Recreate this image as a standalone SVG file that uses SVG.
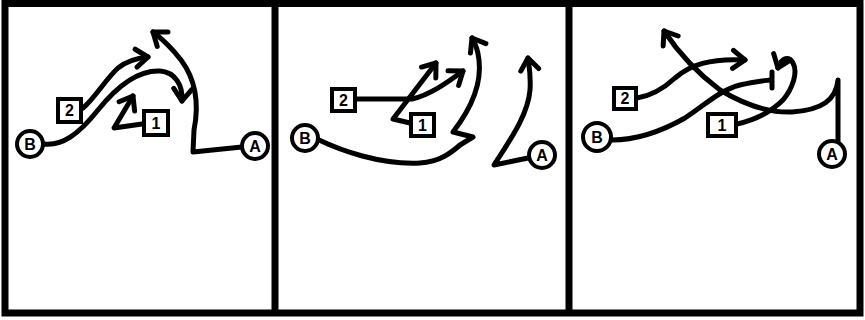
<svg xmlns="http://www.w3.org/2000/svg" width="865" height="320" viewBox="0 0 865 320">
<style>
.frame{fill:none;stroke:#000;stroke-width:7;stroke-linejoin:miter}
.div{stroke:#000;stroke-width:7}
.route{fill:none;stroke:#000;stroke-width:5;stroke-linecap:round;stroke-linejoin:round}
.arr{marker-end:url(#ah)}
.node circle,.node rect{fill:#fff;stroke:#000;stroke-width:4}
.node text{font-family:"Liberation Sans",Arial,sans-serif;font-weight:bold;font-size:16px;text-anchor:middle;fill:#000}
</style>
<defs>
<marker id="ah" viewBox="0 0 24 24" refX="17" refY="12" markerWidth="24" markerHeight="24" markerUnits="userSpaceOnUse" orient="auto">
<path d="M5,3 L17,12 L5,21" fill="none" stroke="#000" stroke-width="5" stroke-linecap="round" stroke-linejoin="round"/>
</marker>
</defs>
<rect width="865" height="320" fill="#fff"/>
<g id="frame">
<rect class="frame" x="5" y="3.5" width="855" height="309.5"/>
<line class="div" x1="275" y1="3" x2="275" y2="313"/>
<line class="div" x1="569" y1="3" x2="569" y2="313"/>
</g>
<g id="connectors">
<!-- panel 1 -->
<path class="route arr" d="M44,144 C62,146 78,135 98,110 C118,85 138,70 160,71 C175,72 183,85 182,101"/>
<path class="route arr" d="M83,108 C95,98 105,80 118,68 C128,60 138,58 148,57"/>
<path class="route arr" d="M142,124 L114,128 L133,96"/>
<path class="route arr" d="M242,147 L193,152 L194,130 C199,105 196,80 181,60 C171,47 161,38 153,32"/>
<!-- panel 2 -->
<path class="route arr" d="M319,140 C340,150 380,165 420,163 C440,162 452,152 460,145 L473,137 L453,132 C470,110 482,85 479,60 C478,50 475,43 472,38"/>
<path class="route arr" d="M357,99 L412,99 C430,95 448,82 463,71"/>
<path class="route arr" d="M410,123 L393,119 L436,63"/>
<path class="route arr" d="M528,158 L494,165 C510,140 528,115 530,90 C531,75 529,65 528,58"/>
<!-- panel 3 -->
<path class="route" d="M612,140 C630,140 655,135 685,118 C705,105 720,90 740,85 C752,82 762,81 770,80"/>
<line class="route" x1="772" y1="72" x2="772" y2="88"/>
<path class="route arr" d="M637,98 C650,96 662,90 675,78 C690,65 710,58 745,60"/>
<path class="route arr" d="M737,124 C755,120 770,113 783,100 C793,88 798,72 793,63 C789,56 782,57 778,68"/>
<path class="route arr" d="M838,141 L838,80 C836,100 822,110 792,112 C768,113 745,105 720,90 C700,75 680,55 664,31"/>
</g>
<g id="p1-B" class="node"><circle cx="30" cy="144" r="13"/><text x="30" y="150">B</text></g>
<g id="p1-A" class="node"><circle cx="255" cy="146" r="13"/><text x="255" y="152">A</text></g>
<g id="p1-2" class="node"><rect x="58" y="99" width="23" height="23"/><text x="69.5" y="116">2</text></g>
<g id="p1-1" class="node"><rect x="144" y="111" width="24" height="24"/><text x="156" y="129">1</text></g>
<g id="p2-B" class="node"><circle cx="305" cy="138" r="13"/><text x="305" y="144">B</text></g>
<g id="p2-A" class="node"><circle cx="542" cy="155" r="13"/><text x="542" y="161">A</text></g>
<g id="p2-2" class="node"><rect x="332" y="89" width="23" height="22"/><text x="343.5" y="106">2</text></g>
<g id="p2-1" class="node"><rect x="411" y="114" width="23" height="22"/><text x="422.5" y="131">1</text></g>
<g id="p3-B" class="node"><circle cx="597" cy="137" r="14"/><text x="597" y="143">B</text></g>
<g id="p3-A" class="node"><circle cx="832" cy="154" r="13"/><text x="832" y="160">A</text></g>
<g id="p3-2" class="node"><rect x="614" y="88" width="22" height="21"/><text x="625" y="104">2</text></g>
<g id="p3-1" class="node"><rect x="708" y="114" width="28" height="22"/><text x="722" y="131">1</text></g>
</svg>
